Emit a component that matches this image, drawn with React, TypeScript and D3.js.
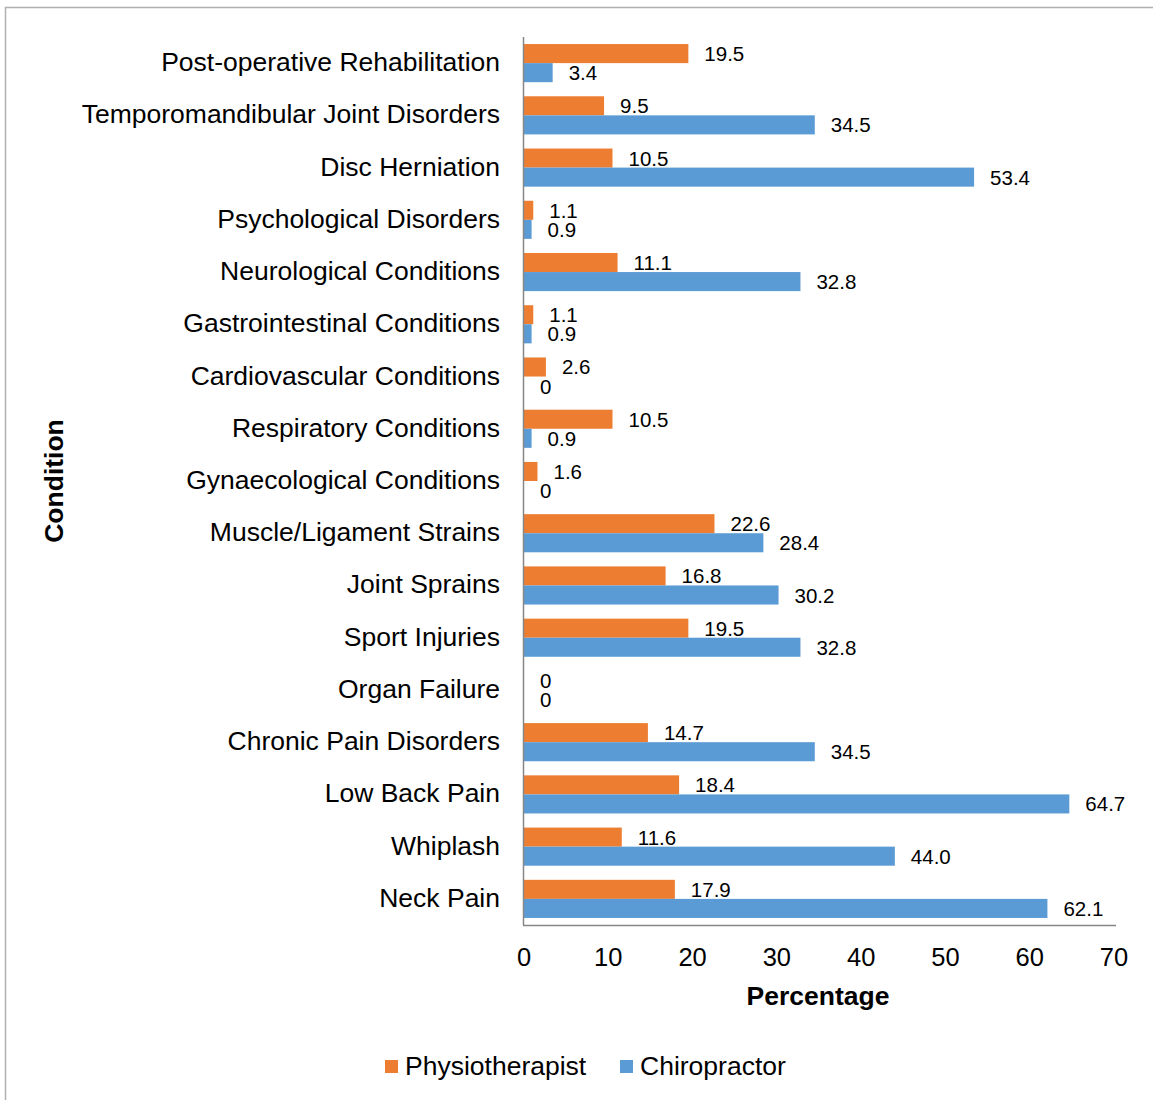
import React from "react";
import * as d3 from "d3";

const conditions = [
  "Post-operative Rehabilitation",
  "Temporomandibular Joint Disorders",
  "Disc Herniation",
  "Psychological Disorders",
  "Neurological Conditions",
  "Gastrointestinal Conditions",
  "Cardiovascular Conditions",
  "Respiratory Conditions",
  "Gynaecological Conditions",
  "Muscle/Ligament Strains",
  "Joint Sprains",
  "Sport Injuries",
  "Organ Failure",
  "Chronic Pain Disorders",
  "Low Back Pain",
  "Whiplash",
  "Neck Pain",
];
const physiotherapist = [19.5, 9.5, 10.5, 1.1, 11.1, 1.1, 2.6, 10.5, 1.6, 22.6, 16.8, 19.5, 0, 14.7, 18.4, 11.6, 17.9];
const chiropractor = [3.4, 34.5, 53.4, 0.9, 32.8, 0.9, 0, 0.9, 0, 28.4, 30.2, 32.8, 0, 34.5, 64.7, 44.0, 62.1];
const seriesNames = ["Physiotherapist", "Chiropractor"];
const seriesColors = ["#ED7D31", "#5B9BD5"];
const xTicks = [0, 10, 20, 30, 40, 50, 60, 70];

const FONT = "Arial, 'Liberation Sans', sans-serif";

export default function App() {
  const W = 1153, H = 1100;
  const left = 524, right = 1114, top = 37, bottom = 925;
  const x = d3.scaleLinear().domain([0, 70]).range([left, right]);
  const y = d3.scaleBand().domain(conditions).range([top, bottom]).paddingInner(0.27).paddingOuter(0.135);
  const inner = d3.scaleBand().domain(seriesNames).range([0, y.bandwidth()]);
  const series = [physiotherapist, chiropractor];
  const fmt = (v: number) => (v === 0 ? "0" : v.toFixed(1));

  return (
    <svg width={W} height={H} style={{ position: "absolute", left: 0, top: 0 }} fontFamily={FONT}>
      <rect x={0} y={0} width={W} height={H} fill="#fff" />
      <rect x={5.5} y={7.5} width={W + 10} height={H + 10} fill="none" stroke="#b0b0b0" strokeWidth={1.5} />
      {conditions.map((c, i) => (
        <g key={c}>
          {series.map((vals, s) => {
            const yy = (y(c) as number) + (inner(seriesNames[s]) as number);
            const bw = inner.bandwidth();
            return (
              <g key={s}>
                <rect x={x(0)} y={yy} width={x(vals[i]) - x(0)} height={bw} fill={seriesColors[s]} />
                <text x={x(vals[i]) + 16} y={yy + bw / 2} dominantBaseline="central" fontSize={20.5} fill="#000">
                  {fmt(vals[i])}
                </text>
              </g>
            );
          })}
          <text x={left - 24} y={(y(c) as number) + y.bandwidth() / 2 - 1} dominantBaseline="central" textAnchor="end" fontSize={26.5} fill="#000">
            {c}
          </text>
        </g>
      ))}
      <line x1={left - 0.5} x2={left - 0.5} y1={top} y2={bottom} stroke="#868686" strokeWidth={1.5} />
      <line x1={left - 1} x2={right + 2} y1={bottom + 0.5} y2={bottom + 0.5} stroke="#868686" strokeWidth={1.5} />
      {xTicks.map((t) => (
        <text key={t} x={x(t)} y={957} textAnchor="middle" dominantBaseline="central" fontSize={25.5} fill="#000">
          {t}
        </text>
      ))}
      <text x={818} y={996} textAnchor="middle" dominantBaseline="central" fontSize={26.5} fontWeight="bold" fill="#000">
        Percentage
      </text>
      <text transform={`translate(54,481) rotate(-90)`} textAnchor="middle" dominantBaseline="central" fontSize={26.5} fontWeight="bold" fill="#000">
        Condition
      </text>
      {seriesNames.map((n, s) => {
        const lx = s === 0 ? 385 : 620;
        return (
          <g key={n}>
            <rect x={lx} y={1060} width={13} height={13} fill={seriesColors[s]} />
            <text x={lx + 20} y={1066} dominantBaseline="central" fontSize={26.5} fill="#000">
              {n}
            </text>
          </g>
        );
      })}
    </svg>
  );
}
